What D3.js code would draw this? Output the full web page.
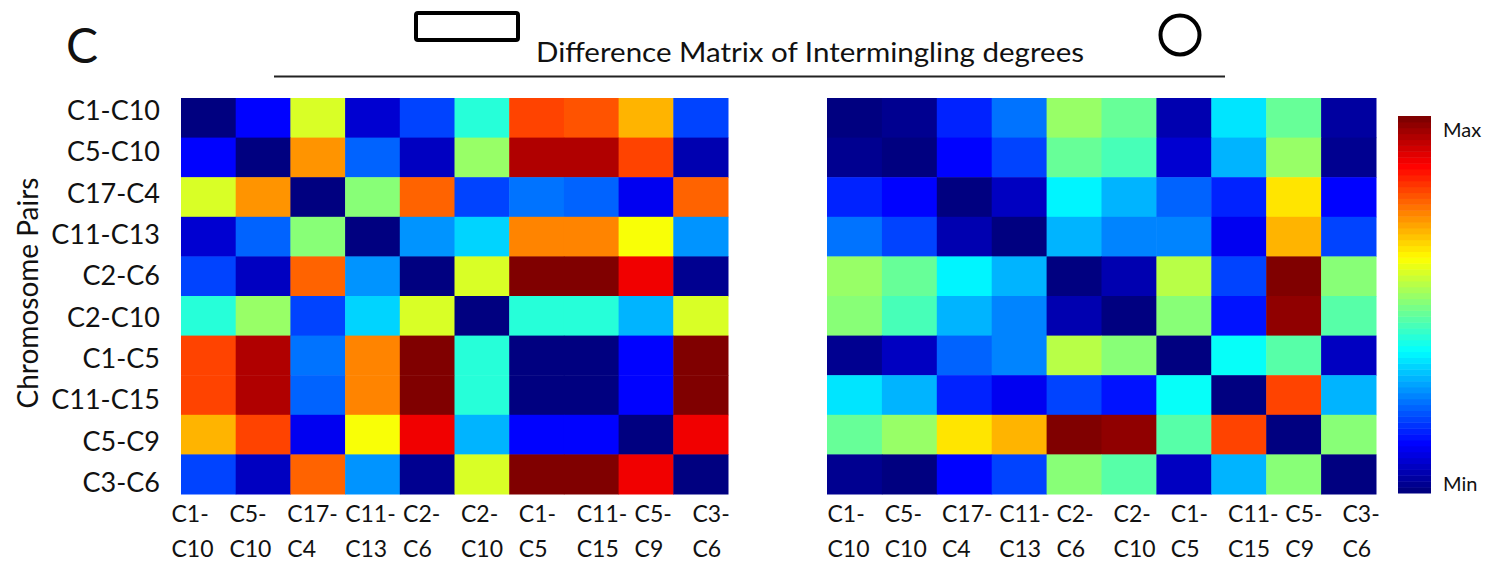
<!DOCTYPE html>
<html>
<head>
<meta charset="utf-8">
<script src="https://cdn.jsdelivr.net/npm/d3@7"></script>
<style>
  html, body { margin: 0; padding: 0; background: #fff; }
  svg { display: block; font-family: Lato, "Open Sans", sans-serif; }
</style>
</head>
<body>
<svg id="chart" width="1495" height="565"></svg>
<script>
// Chromosome pairs, used for rows and columns of both matrices
const pairs = ["C1-C10", "C5-C10", "C17-C4", "C11-C13", "C2-C6",
               "C2-C10", "C1-C5", "C11-C15", "C5-C9", "C3-C6"];

// Normalised intermingling-degree differences (0 = Min, 1 = Max), left matrix
const leftMatrix = [
  [0.00, 0.14, 0.59, 0.08, 0.20, 0.41, 0.81, 0.79, 0.69, 0.20],
  [0.14, 0.00, 0.72, 0.22, 0.07, 0.53, 0.95, 0.94, 0.81, 0.06],
  [0.59, 0.72, 0.00, 0.51, 0.78, 0.20, 0.235, 0.22, 0.12, 0.78],
  [0.08, 0.22, 0.51, 0.00, 0.27, 0.33, 0.735, 0.735, 0.61, 0.28],
  [0.20, 0.07, 0.78, 0.27, 0.00, 0.59, 1.00, 1.00, 0.875, 0.02],
  [0.41, 0.53, 0.20, 0.33, 0.59, 0.00, 0.42, 0.41, 0.30, 0.59],
  [0.81, 0.95, 0.235, 0.735, 1.00, 0.42, 0.00, 0.00, 0.14, 1.00],
  [0.80, 0.94, 0.22, 0.735, 1.00, 0.41, 0.00, 0.00, 0.125, 1.00],
  [0.69, 0.81, 0.12, 0.61, 0.875, 0.30, 0.14, 0.125, 0.00, 0.875],
  [0.20, 0.07, 0.78, 0.28, 0.02, 0.59, 1.00, 1.00, 0.875, 0.00]
];

// Right matrix
const rightMatrix = [
  [0.00, 0.03, 0.17, 0.235, 0.53, 0.48, 0.05, 0.35, 0.48, 0.04],
  [0.03, 0.00, 0.14, 0.19, 0.48, 0.44, 0.08, 0.30, 0.53, 0.02],
  [0.17, 0.14, 0.00, 0.07, 0.36, 0.31, 0.22, 0.17, 0.655, 0.14],
  [0.235, 0.19, 0.05, 0.00, 0.31, 0.265, 0.265, 0.12, 0.70, 0.19],
  [0.53, 0.48, 0.36, 0.31, 0.00, 0.05, 0.56, 0.20, 1.00, 0.50],
  [0.50, 0.44, 0.31, 0.265, 0.05, 0.00, 0.51, 0.155, 0.97, 0.455],
  [0.03, 0.07, 0.22, 0.265, 0.56, 0.51, 0.00, 0.375, 0.455, 0.07],
  [0.35, 0.30, 0.17, 0.12, 0.20, 0.155, 0.375, 0.00, 0.81, 0.30],
  [0.48, 0.53, 0.655, 0.70, 1.00, 0.97, 0.455, 0.81, 0.00, 0.51],
  [0.03, 0.01, 0.14, 0.19, 0.51, 0.455, 0.07, 0.30, 0.51, 0.00]
];

const titleText = "Difference Matrix of Intermingling degrees";
const panelLetter = "C";
const yTitle = "Chromosome Pairs";
const colorbarLabels = ["Max", "Min"];

const svg = d3.select("#chart");
const FONT = "Lato, 'Open Sans', sans-serif";

// Jet colour map, 64 discrete levels
const jet = d3.scaleLinear()
  .domain([0, 0.125, 0.375, 0.625, 0.875, 1])
  .range(["#000080", "#0000ff", "#00ffff", "#ffff00", "#ff0000", "#800000"])
  .interpolate(d3.interpolateRgb);
const nLevels = 64;
const levels = d3.range(nLevels).map(i => jet(i / (nLevels - 1)));
const color = d3.scaleQuantize().domain([0, 1]).range(levels);

// Header: panel letter, shapes, title and rule
svg.append("text").attr("x", 66).attr("y", 63)
  .attr("font-size", 48).attr("fill", "#111").text(panelLetter);

svg.append("rect").attr("x", 416).attr("y", 13).attr("width", 102).attr("height", 27)
  .attr("rx", 2).attr("fill", "none").attr("stroke", "#000").attr("stroke-width", 4);

svg.append("circle").attr("cx", 1180).attr("cy", 35).attr("r", 19.5)
  .attr("fill", "none").attr("stroke", "#000").attr("stroke-width", 4);

svg.append("text").attr("x", 536).attr("y", 62)
  .attr("font-size", 26).attr("fill", "#111")
  .attr("textLength", 548).attr("lengthAdjust", "spacingAndGlyphs")
  .text(titleText);

svg.append("line").attr("x1", 274).attr("x2", 1225).attr("y1", 76.5).attr("y2", 76.5)
  .attr("stroke", "#222").attr("stroke-width", 2);

// Y axis title
svg.append("text")
  .attr("transform", "translate(38,293) rotate(-90)")
  .attr("text-anchor", "middle").attr("font-size", 28).attr("fill", "#111")
  .text(yTitle);

function drawMatrix(matrix, x0, x1, y0, y1, labelStart, labelEnd, withRowLabels) {
  const x = d3.scaleBand().domain(pairs).range([x0, x1]).padding(0);
  const y = d3.scaleBand().domain(pairs).range([y0, y1]).padding(0);
  const g = svg.append("g");

  const cells = [];
  matrix.forEach((row, i) => row.forEach((v, j) => cells.push({ r: pairs[i], c: pairs[j], v })));

  g.selectAll("rect").data(cells).join("rect")
    .attr("x", d => x(d.c))
    .attr("y", d => y(d.r))
    .attr("width", x.bandwidth() + 0.5)
    .attr("height", y.bandwidth() + 0.5)
    .attr("fill", d => color(d.v));

  // Column labels: left-aligned two-line text, spread evenly under the matrix
  const xLab = d3.scalePoint().domain(pairs).range([labelStart, labelEnd]);
  const xAxis = svg.append("g")
    .attr("transform", `translate(0,${y1})`)
    .call(d3.axisBottom(xLab).tickSize(0).tickPadding(0).tickFormat(""));
  xAxis.select(".domain").remove();
  xAxis.selectAll(".tick text").remove();
  xAxis.selectAll(".tick").append("text")
    .attr("fill", "#111").attr("font-size", 23)
    .attr("font-family", FONT)
    .attr("text-anchor", "start")
    .each(function (d) {
      const parts = d.split("-");
      const t = d3.select(this);
      t.append("tspan").attr("x", 0).attr("y", 28).text(parts[0] + "-");
      t.append("tspan").attr("x", 0).attr("y", 63).text(parts[1]);
    });

  if (withRowLabels) {
    // Row labels, evenly spaced beside the rows
    const yLab = d3.scalePoint().domain(pairs).range([111, 483]);
    const yAxis = svg.append("g")
      .attr("transform", `translate(160,0)`)
      .call(d3.axisLeft(yLab).tickSize(0).tickPadding(0));
    yAxis.select(".domain").remove();
    yAxis.selectAll(".tick text")
      .attr("fill", "#111").attr("font-size", 27)
      .attr("font-family", FONT);
  }
}

drawMatrix(leftMatrix, 181, 728, 98, 494, 171, 692, true);
drawMatrix(rightMatrix, 827, 1376, 98, 494, 827, 1342, false);

// Colour bar
const cbTop = 116, cbBottom = 493, cbX = 1398, cbW = 33;
const cbScale = d3.scaleLinear().domain([0, 1]).range([cbBottom, cbTop]);
const step = 1 / nLevels;
svg.append("g").selectAll("rect").data(d3.range(nLevels)).join("rect")
  .attr("x", cbX)
  .attr("y", i => cbScale((i + 1) * step))
  .attr("width", cbW)
  .attr("height", i => cbScale(i * step) - cbScale((i + 1) * step) + 0.5)
  .attr("fill", i => levels[i]);

svg.append("text").attr("x", 1443).attr("y", 137)
  .attr("font-size", 20).attr("fill", "#111").text(colorbarLabels[0]);
svg.append("text").attr("x", 1443).attr("y", 491)
  .attr("font-size", 20).attr("fill", "#111").text(colorbarLabels[1]);
</script>
</body>
</html>
